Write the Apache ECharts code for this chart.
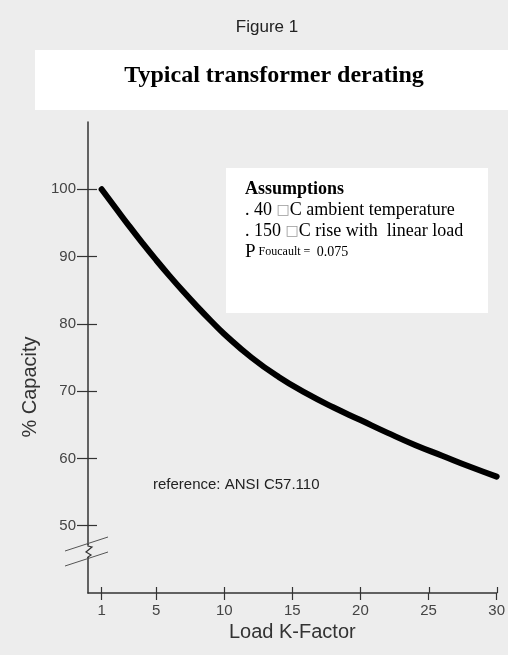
<!DOCTYPE html>
<html>
<head>
<meta charset="utf-8">
<script src="https://cdn.jsdelivr.net/npm/echarts@6/dist/echarts.min.js"></script>
<style>
  html, body { margin: 0; padding: 0; background: #ededed; }
  #main { width: 508px; height: 655px; }
</style>
</head>
<body>
<div id="main"></div>
<script>
// values
var kFactor = [1, 2, 3, 4, 5, 6, 7, 8, 9, 10, 12, 14, 16, 18, 20, 22, 24, 26, 28, 30]
var capacity = [100, 97.3, 94.6, 92.0, 89.5, 87.1, 84.8, 82.6, 80.5, 78.5, 75.0, 72.1, 69.7, 67.6, 65.7, 63.8, 62.0, 60.4, 58.8, 57.3]
var xTicks = [1, 5, 10, 15, 20, 25, 30]
var yTicks = [50, 60, 70, 80, 90, 100]

var axisColor = '#333'
var labelFont = { fontFamily: 'Liberation Sans', fontSize: 15, color: '#444' }

var myChart = echarts.init(document.getElementById('main'))
var points = []
for (var i = 0; i < kFactor.length; i++) {
  points.push([kFactor[i], capacity[i]])
}

var gridBox = { left: 88, right: 11, top: 122, bottom: 62 }

option = {
  backgroundColor: '#ededed',
  animation: false,
  title: [
    {
      text: 'Figure 1',
      left: 262, top: 14, textAlign: 'center',
      textStyle: { fontFamily: 'Liberation Sans', fontSize: 17, fontWeight: 'normal', color: '#222' }
    },
    {
      text: 'Typical transformer derating',
      left: 269, top: 59, textAlign: 'center',
      textStyle: { fontFamily: 'Liberation Serif', fontSize: 24, fontWeight: 'bold', color: '#000' }
    }
  ],
  graphic: [
    { type: 'rect', z: 0, shape: { x: 35, y: 50, width: 473, height: 60 }, style: { fill: '#fff' } },
    { type: 'rect', z: 0, shape: { x: 226, y: 168, width: 262, height: 145 }, style: { fill: '#fff' } },
    {
      type: 'text', z: 5, left: 245, top: 180,
      style: {
        text: '{b|Assumptions}\n{t|. 40 }{box|□}{t|C ambient temperature}\n{t|. 150 }{box|□}{t|C rise with  linear load}\n{p|P}{s| Foucault = }{s2| 0.075}',
        rich: {
          b: { fontFamily: 'Liberation Serif', fontSize: 18, fontWeight: 'bold', fill: '#000', lineHeight: 21 },
          t: { fontFamily: 'Liberation Serif', fontSize: 18, fill: '#000', lineHeight: 21 },
          box: { fontFamily: 'DejaVu Sans', fontSize: 14, fill: '#999', lineHeight: 21 },
          p: { fontFamily: 'Liberation Serif', fontSize: 19, fill: '#000', lineHeight: 21 },
          s: { fontFamily: 'Liberation Serif', fontSize: 12, fill: '#000', lineHeight: 21 },
          s2: { fontFamily: 'Liberation Serif', fontSize: 14, fill: '#000', lineHeight: 21 }
        }
      }
    },
    {
      type: 'text', z: 5, left: 153, top: 477,
      style: { text: 'reference: ANSI C57.110', fontFamily: 'Liberation Sans', fontSize: 15, fill: '#222' }
    },
    {
      type: 'text', z: 5, x: 30, y: 387, rotation: Math.PI / 2,
      style: { text: '% Capacity', fontFamily: 'Liberation Sans', fontSize: 20, fill: '#333', align: 'center', verticalAlign: 'middle' }
    },
    // axis break marks
    { type: 'rect', z: 20, shape: { x: 85, y: 545, width: 6, height: 12 }, style: { fill: '#ededed' } },
    { type: 'polyline', z: 21, shape: { points: [[88, 544], [88, 546], [92, 547], [86, 552], [91, 555], [88, 557], [88, 559]] }, style: { stroke: axisColor, lineWidth: 1.2, fill: null } },
    { type: 'line', z: 21, shape: { x1: 65, y1: 551, x2: 108, y2: 537 }, style: { stroke: '#555', lineWidth: 1 } },
    { type: 'line', z: 21, shape: { x1: 65, y1: 566, x2: 108, y2: 552 }, style: { stroke: '#555', lineWidth: 1 } }
  ],
  grid: [
    { left: gridBox.left, right: gridBox.right, top: gridBox.top, bottom: gridBox.bottom },
    { left: gridBox.left, right: gridBox.right, top: gridBox.top, bottom: gridBox.bottom }
  ],
  xAxis: [
    {
      type: 'value', gridIndex: 0, min: 0, max: 30, interval: 5,
      name: 'Load K-Factor', nameLocation: 'middle', nameGap: 27,
      nameTextStyle: { fontFamily: 'Liberation Sans', fontSize: 20, color: '#333' },
      axisLine: { show: true, onZero: false, lineStyle: { color: axisColor, width: 1.5 } },
      axisTick: { show: true, length: 7, customValues: xTicks, lineStyle: { color: axisColor, width: 1.2 } },
      axisLabel: Object.assign({ customValues: xTicks, margin: 10 }, labelFont),
      splitLine: { show: false }
    },
    {
      type: 'value', gridIndex: 1, min: 0, max: 30, interval: 5,
      axisLine: { show: false },
      axisTick: { show: true, inside: true, length: 6, customValues: xTicks, lineStyle: { color: axisColor, width: 1.2 } },
      axisLabel: { show: false },
      splitLine: { show: false }
    }
  ],
  yAxis: [
    {
      type: 'value', gridIndex: 0, min: 40, max: 110, interval: 10,
      axisLine: { show: true, onZero: false, lineStyle: { color: axisColor, width: 1.5 } },
      axisTick: { show: true, length: 11, customValues: yTicks, lineStyle: { color: axisColor, width: 1.2 } },
      axisLabel: Object.assign({ customValues: yTicks, margin: 12 }, labelFont),
      splitLine: { show: false }
    },
    {
      type: 'value', gridIndex: 1, min: 40, max: 110, interval: 10,
      axisLine: { show: false },
      axisTick: { show: true, inside: true, length: 9, customValues: yTicks, lineStyle: { color: axisColor, width: 1.2 } },
      axisLabel: { show: false },
      splitLine: { show: false }
    }
  ],
  series: [
    {
      type: 'line',
      xAxisIndex: 0, yAxisIndex: 0,
      data: points,
      smooth: true,
      showSymbol: false,
      lineStyle: { color: '#000', width: 6, cap: 'round', join: 'round' },
      z: 10
    }
  ]
}
myChart.setOption(option)
</script>
</body>
</html>
